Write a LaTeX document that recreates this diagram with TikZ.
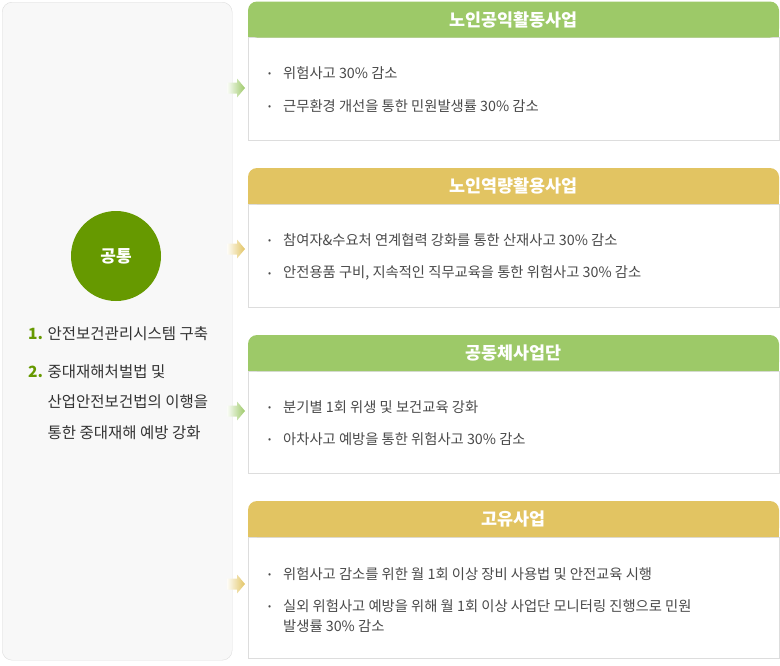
\documentclass[tikz,border=0pt]{standalone}
\usepackage{fontspec}
\setmainfont{Noto Sans CJK KR}
\usetikzlibrary{positioning}
\definecolor{hdgreen}{HTML}{9DC968}
\definecolor{hdyellow}{HTML}{E2C462}
\definecolor{circgreen}{HTML}{669900}
\definecolor{panelgray}{HTML}{F8F8F8}
\definecolor{linegray}{HTML}{DDDDDD}
\definecolor{txtgray}{HTML}{4A4A4A}
\newcommand{\itembullet}{\makebox[15pt][l]{\raisebox{1.5pt}{\fontsize{9}{9}\selectfont •}}}

\begin{document}
\begin{tikzpicture}[x=1pt, y=-1pt,
    panel/.style={rectangle, draw=linegray, fill=panelgray, rounded corners=10pt, anchor=north west, minimum width=230pt, minimum height=658pt},
    bodybox/.style={rectangle, draw=linegray, fill=white, anchor=north west, minimum width=531pt, inner sep=0pt},
    headbox/.style={rectangle, rounded corners=9pt, minimum width=531pt, minimum height=36pt, text=white, font=\fontsize{17.4}{18}\selectfont\bfseries},
    itemtext/.style={anchor=west, inner sep=0pt, align=left, text=txtgray, font=\fontsize{14.3}{20}\selectfont},
    goaltext/.style={anchor=west, inner sep=0pt, align=left, text=black!80, font=\fontsize{15.5}{30.5}\selectfont},
    arrowgreen/.style={left color=hdgreen!5, right color=hdgreen},
    arrowyellow/.style={left color=hdyellow!5, right color=hdyellow}]
    \useasboundingbox (0,0) rectangle (780,665);

    % left panel
    \node[panel] (common) at (2,2) {};
    \node[circle, fill=circgreen, minimum size=90pt, text=white, font=\fontsize{17}{18}\selectfont\bfseries] (commontitle) at (116,256) {공통};
    \node[goaltext] (goal1) at (28,334) {\textcolor{circgreen}{\textbf{1.}} 안전보건관리시스템 구축};
    \node[goaltext] (goal2) at (28,402) {\textcolor{circgreen}{\textbf{2.}} 중대재해처벌법 및\\\phantom{\textbf{2.} }산업안전보건법의 이행을\\\phantom{\textbf{2.} }통한 중대재해 예방 강화};

    % box 1
    \node[bodybox, minimum height=103pt] (body1) at (248,37) {};
    \fill[hdgreen] (248,20) rectangle (779,37);
    \node[headbox, fill=hdgreen] (head1) at (513.5,19.5) {노인공익활동사업};
    \node[itemtext] (item11) at (268,73) {\itembullet 위험사고 30\% 감소};
    \node[itemtext] (item12) at (268,106) {\itembullet 근무환경 개선을 통한 민원발생률 30\% 감소};

    % box 2
    \node[bodybox, minimum height=103pt] (body2) at (248,204) {};
    \fill[hdyellow] (248,186) rectangle (779,204);
    \node[headbox, fill=hdyellow] (head2) at (513.5,186) {노인역량활용사업};
    \node[itemtext] (item21) at (268,240) {\itembullet 참여자\&수요처 연계협력 강화를 통한 산재사고 30\% 감소};
    \node[itemtext] (item22) at (268,273) {\itembullet 안전용품 구비, 지속적인 직무교육을 통한 위험사고 30\% 감소};

    % box 3
    \node[bodybox, minimum height=102pt] (body3) at (248,371) {};
    \fill[hdgreen] (248,353) rectangle (779,371);
    \node[headbox, fill=hdgreen] (head3) at (513.5,353) {공동체사업단};
    \node[itemtext] (item31) at (268,407) {\itembullet 분기별 1회 위생 및 보건교육 강화};
    \node[itemtext] (item32) at (268,439) {\itembullet 아차사고 예방을 통한 위험사고 30\% 감소};

    % box 4
    \node[bodybox, minimum height=121pt] (body4) at (248,537) {};
    \fill[hdyellow] (248,519) rectangle (779,537);
    \node[headbox, fill=hdyellow] (head4) at (513.5,519) {고유사업};
    \node[itemtext] (item41) at (268,574) {\itembullet 위험사고 감소를 위한 월 1회 이상 장비 사용법 및 안전교육 시행};
    \node[itemtext] (item42) at (268,616) {\itembullet 실외 위험사고 예방을 위해 월 1회 이상 사업단 모니터링 진행으로 민원\\\hspace*{15pt}발생률 30\% 감소};

    % arrows
    \coordinate (tip1) at (245,88);
    \coordinate (tip2) at (245,249);
    \coordinate (tip3) at (245,411);
    \coordinate (tip4) at (245,584);
    \shade[arrowgreen, shift={(tip1)}] (-18,-5.5) -- (-8,-5.5) -- (-8,-9.5) -- (0,0) -- (-8,9.5) -- (-8,5.5) -- (-18,5.5) -- cycle;
    \shade[arrowyellow, shift={(tip2)}] (-18,-5.5) -- (-8,-5.5) -- (-8,-9.5) -- (0,0) -- (-8,9.5) -- (-8,5.5) -- (-18,5.5) -- cycle;
    \shade[arrowgreen, shift={(tip3)}] (-18,-5.5) -- (-8,-5.5) -- (-8,-9.5) -- (0,0) -- (-8,9.5) -- (-8,5.5) -- (-18,5.5) -- cycle;
    \shade[arrowyellow, shift={(tip4)}] (-18,-5.5) -- (-8,-5.5) -- (-8,-9.5) -- (0,0) -- (-8,9.5) -- (-8,5.5) -- (-18,5.5) -- cycle;
\end{tikzpicture}
\end{document}
